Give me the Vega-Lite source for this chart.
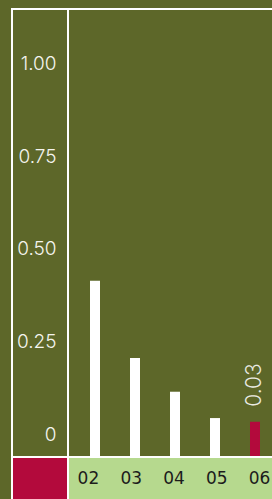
{
  "$schema": "https://vega.github.io/schema/vega-lite/v6.json",
  "background": "#5d6729",
  "padding": {"left": 11, "top": 8, "right": 0, "bottom": 0},
  "autosize": {"type": "pad"},
  "datasets": {
    "bars": [
      {"year": "02", "value": 0.414},
      {"year": "03", "value": 0.206},
      {"year": "04", "value": 0.115},
      {"year": "05", "value": 0.044},
      {"year": "06", "value": 0.034}
    ]
  },
  "columns": 2,
  "spacing": 0,
  "bounds": "flush",
  "concat": [
    {
      "width": 56,
      "height": 448,
      "view": {"fill": "#5d6729", "stroke": "white", "strokeWidth": 2},
      "data": {"values": [{"t": ""}]},
      "mark": {"type": "text", "text": ""},
      "encoding": {}
    },
    {
      "width": 214,
      "height": 448,
      "view": {"fill": "#5d6729", "stroke": "white", "strokeWidth": 2},
      "data": {"name": "bars"},
      "encoding": {
        "x": {"field": "year", "type": "nominal", "axis": null,
              "scale": {"paddingInner": 0.75, "paddingOuter": 0.55}},
        "y": {"field": "value", "type": "quantitative",
              "scale": {"domain": [-0.061, 1.147], "nice": false, "zero": false},
              "axis": {"orient": "left", "values": [0, 0.25, 0.5, 0.75, 1],
                       "labelExpr": "datum.value == 0 ? '0' : format(datum.value, '.2f')",
                       "domain": false, "ticks": false, "grid": false, "title": null,
                       "labelPadding": 12, "labelFont": "Inter", "labelFontWeight": 300,
                       "labelFontSize": 19, "labelColor": "#f4f4ee"}}
      },
      "layer": [
        {
          "mark": {"type": "bar"},
          "encoding": {
            "y2": {"datum": -0.061},
            "color": {"condition": {"test": "datum.year == '06'", "value": "#b30a3c"}, "value": "white"}
          }
        },
        {
          "transform": [{"filter": "datum.year == '06'"}],
          "mark": {"type": "text", "angle": 270, "align": "left", "baseline": "middle", "dx": 15,
                   "font": "Inter", "fontWeight": 300, "fontSize": 21, "color": "#eaeae2"},
          "encoding": {"text": {"field": "value", "type": "quantitative", "format": ".2f"}}
        }
      ]
    },
    {
      "width": 56,
      "height": 44,
      "view": {"fill": "#b30a3c", "stroke": "white", "strokeWidth": 2},
      "data": {"values": [{"t": ""}]},
      "mark": {"type": "text", "text": ""},
      "encoding": {}
    },
    {
      "width": 214,
      "height": 44,
      "view": {"fill": "#b6d98e", "stroke": "white", "strokeWidth": 2},
      "data": {"name": "bars"},
      "mark": {"type": "text", "font": "DejaVu Sans", "fontSize": 17, "color": "#1c1c1c", "baseline": "middle", "dx": -1},
      "encoding": {
        "x": {"field": "year", "type": "nominal", "axis": null,
              "scale": {"paddingInner": 0.75, "paddingOuter": 0.55}},
        "text": {"field": "year", "type": "nominal"}
      }
    }
  ]
}
